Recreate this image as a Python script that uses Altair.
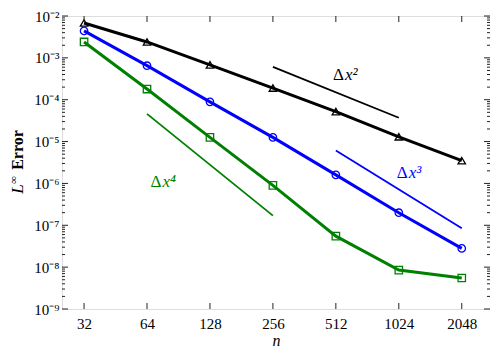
import altair as alt
import pandas as pd

# ---------------- data ----------------
n_values = [32, 64, 128, 256, 512, 1024, 2048]
err_black = [6.8e-3, 2.4e-3, 6.8e-4, 1.9e-4, 5.2e-5, 1.3e-5, 3.5e-6]
err_blue = [4.4e-3, 6.5e-4, 8.9e-5, 1.26e-5, 1.6e-6, 2.0e-7, 2.8e-8]
err_green = [2.4e-3, 1.8e-4, 1.26e-5, 9.0e-7, 5.5e-8, 8.5e-9, 5.5e-9]

series_names = ["black", "blue", "green"]
series_colors = ["#000000", "#0000ff", "#008000"]
series_shapes = ["triangle-up", "circle", "square"]

ref_names = ["Δx²", "Δx³", "Δx⁴"]
ref_powers = ["x²", "x³", "x⁴"]
ref_colors = ["#000000", "#0000ff", "#008000"]
ref_n_start = [256, 512, 64]
ref_n_end = [1024, 2048, 256]
ref_err_start = [6.1e-4, 6.1e-6, 4.6e-5]
ref_err_end = [3.7e-5, 8.5e-8, 1.7e-7]
ref_label_n = [560, 1130, 75]
ref_label_err = [3.9e-4, 1.8e-6, 1.1e-6]

y_tick_values = [1e-9, 1e-8, 1e-7, 1e-6, 1e-5, 1e-4, 1e-3, 1e-2]
y_tick_labels = ["10⁻⁹", "10⁻⁸", "10⁻⁷", "10⁻⁶", "10⁻⁵", "10⁻⁴", "10⁻³", "10⁻²"]
y_minor_mult = [2, 3, 4, 5, 6, 7, 8, 9]
y_minor_values = [m * d for d in y_tick_values[:-1] for m in y_minor_mult]

x_domain = [25.1, 2795]
y_domain = [1e-9, 1e-2]

W, H = 428, 293
FONT = "Liberation Serif"

# ---------------- tables ----------------
rows = []
for name, errs in zip(series_names, [err_black, err_blue, err_green]):
    for n, e in zip(n_values, errs):
        rows.append({"n": n, "err": e, "series": name})
df = pd.DataFrame(rows)

ref_df = pd.DataFrame({
    "name": ref_names, "pw": ref_powers, "n1": ref_n_start, "n2": ref_n_end,
    "e1": ref_err_start, "e2": ref_err_end,
    "ln": ref_label_n, "le": ref_label_err,
})

xscale = alt.Scale(type="log", base=2, domain=x_domain, nice=False)
yscale = alt.Scale(type="log", domain=y_domain, nice=False)

label_expr = "[" + ",".join("'%s'" % s for s in y_tick_labels) + "][round(log(datum.value)/LN10)+9]"

xaxis = alt.Axis(values=n_values, format="d", ticks=False, domain=False, grid=False,
                 labelFont=FONT, labelFontSize=15, labelPadding=7, labelColor="#000",
                 title="n", titleFont=FONT, titleFontStyle="italic", titleFontWeight="normal",
                 titleFontSize=16, titlePadding=1, titleColor="#000")
yaxis = alt.Axis(values=y_tick_values, labelExpr=label_expr, ticks=False, domain=False,
                 grid=False, labelFont=FONT, labelFontSize=15, labelPadding=3,
                 labelColor="#000", title="")

color_scale = alt.Scale(domain=series_names, range=series_colors)
shape_scale = alt.Scale(domain=series_names, range=series_shapes)
ref_color_scale = alt.Scale(domain=ref_names, range=ref_colors)

X = lambda f: alt.X(f, type="quantitative", scale=xscale, axis=xaxis)
Y = lambda f: alt.Y(f, type="quantitative", scale=yscale, axis=yaxis)

base = alt.Chart(df)
lines = base.mark_line(strokeWidth=3).encode(
    x=X("n"), y=Y("err"),
    color=alt.Color("series:N", scale=color_scale, legend=None),
    detail="series:N",
)
points = base.mark_point(filled=False, size=55, strokeWidth=1.3, opacity=1).encode(
    x=X("n"), y=Y("err"),
    color=alt.Color("series:N", scale=color_scale, legend=None),
    shape=alt.Shape("series:N", scale=shape_scale, legend=None),
)

refs = alt.Chart(ref_df).mark_rule(strokeWidth=1.8).encode(
    x=X("n1"), x2="n2", y=Y("e1"), y2="e2",
    color=alt.Color("name:N", scale=ref_color_scale, legend=None),
)
ref_delta = alt.Chart(ref_df).mark_text(font=FONT, fontSize=17, align="right").encode(
    x=X("ln"), y=Y("le"), text=alt.value("Δ"),
    color=alt.Color("name:N", scale=ref_color_scale, legend=None),
)
ref_pow = alt.Chart(ref_df).mark_text(font=FONT, fontSize=17, fontStyle="italic",
                                      align="left", dx=1).encode(
    x=X("ln"), y=Y("le"), text="pw:N",
    color=alt.Color("name:N", scale=ref_color_scale, legend=None),
)

# inward ticks
ymaj = pd.DataFrame({"v": y_tick_values})
ymin = pd.DataFrame({"v": y_minor_values})
xmaj = pd.DataFrame({"v": n_values})
tick_col = "#222"
tick_layers = [
    alt.Chart(ymaj).mark_rule(color=tick_col).encode(y=Y("v"), x=alt.value(0), x2=alt.value(6)),
    alt.Chart(ymaj).mark_rule(color=tick_col).encode(y=Y("v"), x=alt.value(W), x2=alt.value(W - 6)),
    alt.Chart(ymin).mark_rule(color=tick_col).encode(y=Y("v"), x=alt.value(0), x2=alt.value(3)),
    alt.Chart(ymin).mark_rule(color=tick_col).encode(y=Y("v"), x=alt.value(W), x2=alt.value(W - 3)),
    alt.Chart(xmaj).mark_rule(color=tick_col).encode(x=X("v"), y=alt.value(H), y2=alt.value(H - 6)),
    alt.Chart(xmaj).mark_rule(color=tick_col).encode(x=X("v"), y=alt.value(0), y2=alt.value(6)),
]

# y title: L^inf Error
tdf = pd.DataFrame({"t": [0]})
title_L = alt.Chart(tdf).mark_text(font=FONT, fontSize=17, fontStyle="italic", angle=270,
                                   baseline="middle", align="center").encode(
    text=alt.value("L"), x=alt.value(-44), y=alt.value(173))
title_inf = alt.Chart(tdf).mark_text(font=FONT, fontSize=11, angle=270,
                                     baseline="middle", align="center").encode(
    text=alt.value("∞"), x=alt.value(-48), y=alt.value(164))
title_err = alt.Chart(tdf).mark_text(font=FONT, fontSize=16, fontWeight="bold", angle=270,
                                     baseline="middle", align="center").encode(
    text=alt.value("Error"), x=alt.value(-44), y=alt.value(134))

chart = alt.layer(
    lines, points, refs, ref_delta, ref_pow, *tick_layers, title_L, title_inf, title_err
).properties(
    width=W, height=H,
    padding={"left": 54, "top": 8, "right": 0, "bottom": 40},
    autosize=alt.AutoSizeParams(type="none"),
).configure_view(
    stroke="#222", strokeWidth=1.2
).configure(background="white")

chart.save("out.html", embed_options={"renderer": "svg", "actions": False})
